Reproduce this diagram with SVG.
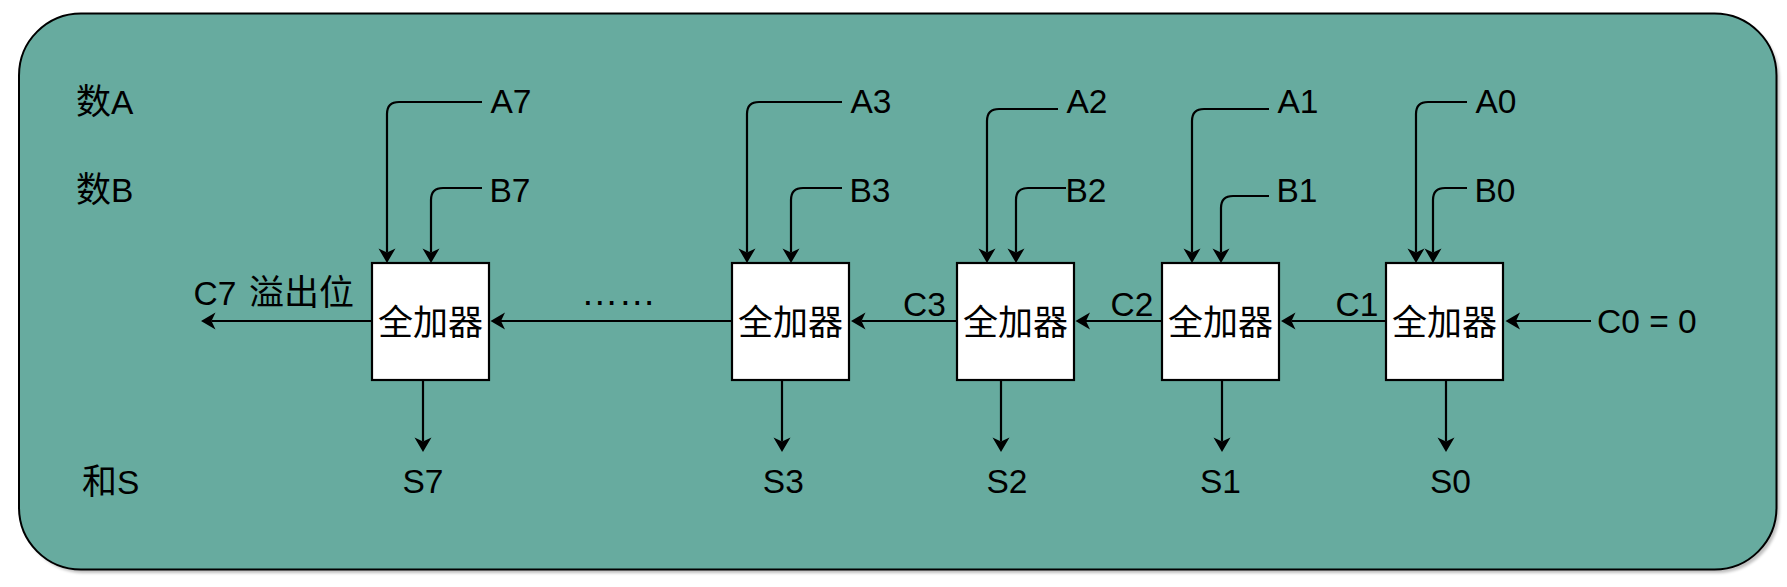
<svg xmlns="http://www.w3.org/2000/svg" width="1787" height="587" viewBox="0 0 1787 587">
<style>
.lbl { font-family: "Liberation Sans", "Noto Sans CJK SC", sans-serif; font-size: 33.5px; fill: #000; }
.cj { font-family: "Noto Sans CJK SC", sans-serif; font-size: 35px; }
.mid { text-anchor: middle; }
.fa rect { fill: #fff; stroke: #000; stroke-width: 2.2; }
#connectors path { fill: none; stroke: #000; stroke-width: 2.2; marker-end: url(#arr); }
</style>
<defs>
<marker id="arr" markerUnits="userSpaceOnUse" orient="auto" overflow="visible" markerWidth="1" markerHeight="1" refX="0" refY="0">
<path d="M-4,-8.5 L10.5,0 L-4,8.5 L0,0 Z" fill="#000" stroke="none"/>
</marker>
<filter id="shadow" x="-5%" y="-5%" width="110%" height="115%">
<feGaussianBlur stdDeviation="1.5"/>
</filter>
</defs>

<g id="background">
<rect x="22" y="17" width="1757.5" height="556" rx="62" ry="62" fill="#000" opacity="0.25" filter="url(#shadow)"/>
<rect x="19" y="13.5" width="1757.5" height="556" rx="62" ry="62" fill="#67AB9F" stroke="#000" stroke-width="2"/>
</g>

<g id="row-labels">
<text class="lbl" x="76" y="114"><tspan class="cj">数</tspan>A</text>
<text class="lbl" x="76" y="202"><tspan class="cj">数</tspan>B</text>
<text class="lbl" x="82" y="494"><tspan class="cj">和</tspan>S</text>
</g>

<g id="fa7" class="fa">
<rect x="372" y="263" width="117" height="117"/>
<text class="lbl cj mid" x="430.5" y="335">全加器</text>
</g>
<g id="fa3" class="fa">
<rect x="732" y="263" width="117" height="117"/>
<text class="lbl cj mid" x="790.5" y="335">全加器</text>
</g>
<g id="fa2" class="fa">
<rect x="957" y="263" width="117" height="117"/>
<text class="lbl cj mid" x="1015.5" y="335">全加器</text>
</g>
<g id="fa1" class="fa">
<rect x="1162" y="263" width="117" height="117"/>
<text class="lbl cj mid" x="1220.5" y="335">全加器</text>
</g>
<g id="fa0" class="fa">
<rect x="1386" y="263" width="117" height="117"/>
<text class="lbl cj mid" x="1444.5" y="335">全加器</text>
</g>

<g id="inputs">
<text class="lbl" x="490.5" y="113.3">A7</text>
<text class="lbl" x="489.5" y="201.7">B7</text>
<text class="lbl" x="850.5" y="113.3">A3</text>
<text class="lbl" x="849.5" y="201.7">B3</text>
<text class="lbl" x="1066.5" y="113.3">A2</text>
<text class="lbl" x="1065.5" y="201.7">B2</text>
<text class="lbl" x="1277.5" y="113.3">A1</text>
<text class="lbl" x="1276.5" y="201.7">B1</text>
<text class="lbl" x="1475.5" y="113.3">A0</text>
<text class="lbl" x="1474.5" y="201.7">B0</text>
</g>

<g id="carries">
<text class="lbl" x="193.5" y="305">C7<tspan class="cj" x="249">溢出位</tspan></text>
<text class="lbl mid" x="618.5" y="304.5" style="font-size:37.5px">……</text>
<text class="lbl" x="903" y="316">C3</text>
<text class="lbl" x="1110.5" y="316">C2</text>
<text class="lbl" x="1335.5" y="316">C1</text>
<text class="lbl" x="1597" y="333.3">C0 = 0</text>
</g>

<g id="sums">
<text class="lbl mid" x="423" y="493.3">S7</text>
<text class="lbl mid" x="783.3" y="493.3">S3</text>
<text class="lbl mid" x="1007" y="493.3">S2</text>
<text class="lbl mid" x="1220.5" y="493.3">S1</text>
<text class="lbl mid" x="1450.5" y="493.3">S0</text>
</g>

<g id="connectors">
<path d="M482 102 H399 Q387 102 387 114 V252.5"/>
<path d="M482 188 H443 Q431 188 431 200 V252.5"/>
<path d="M842 102 H759 Q747 102 747 114 V252.5"/>
<path d="M842 188 H803 Q791 188 791 200 V252.5"/>
<path d="M1058 109 H999 Q987 109 987 121 V252.5"/>
<path d="M1066 188 H1028 Q1016 188 1016 200 V252.5"/>
<path d="M1269 109 H1204 Q1192 109 1192 121 V252.5"/>
<path d="M1269 196 H1233 Q1221 196 1221 208 V252.5"/>
<path d="M1467 102 H1428 Q1416 102 1416 114 V252.5"/>
<path d="M1467 188 H1445 Q1433 188 1433 200 V252.5"/>

<path d="M372 321 H211.5"/>
<path d="M732 321 H501"/>
<path d="M957 321 H861.5"/>
<path d="M1162 321 H1086"/>
<path d="M1386 321 H1291.5"/>
<path d="M1591 321 H1516"/>

<path d="M423 381 V441.5"/>
<path d="M782 381 V441.5"/>
<path d="M1001 381 V441.5"/>
<path d="M1222 381 V441.5"/>
<path d="M1446 381 V441.5"/>
</g>
</svg>
